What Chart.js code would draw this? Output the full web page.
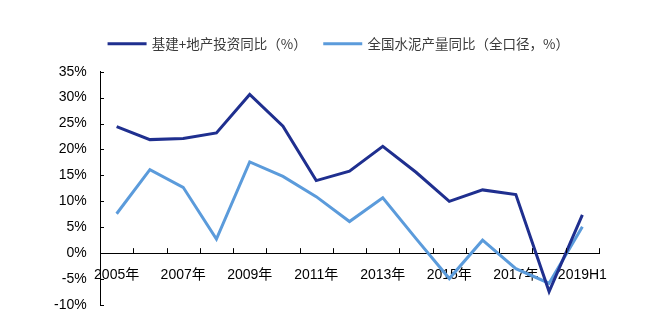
<!DOCTYPE html>
<html>
<head>
<meta charset="utf-8">
<script src="https://cdn.jsdelivr.net/npm/chart.js@4"></script>
<style>
  html, body { margin: 0; padding: 0; background: #fff; }
  #wrap { width: 645px; height: 325px; }
</style>
</head>
<body>
<div id="wrap"><canvas id="myChart"></canvas></div>
<script>
// chart data
var years = ['2005年', '2006年', '2007年', '2008年', '2009年', '2010年', '2011年', '2012年',
             '2013年', '2014年', '2015年', '2016年', '2017年', '2018年', '2019H1'];
var investYoy = [24.4, 21.9, 22.1, 23.2, 30.6, 24.5, 14.0, 15.8, 20.6, 15.6, 10.0, 12.2, 11.3, -7.4, 7.4];
var cementYoy = [7.6, 16.1, 12.7, 2.7, 17.6, 14.8, 10.9, 6.1, 10.7, 2.8, -4.9, 2.5, -3.0, -5.8, 5.1];
var seriesNames = ['基建+地产投资同比（%）', '全国水泥产量同比（全口径，%）'];

var font = "'Liberation Sans', Arial, 'Noto Sans CJK SC', sans-serif";

// small inward tick marks like the original
var tickMarks = {
  id: 'tickMarks',
  afterDraw: function(chart) {
    var ctx = chart.ctx;
    var x = chart.scales.x;
    var y = chart.scales.y;
    var y0 = y.getPixelForValue(0);
    var step = x.getPixelForValue(1) - x.getPixelForValue(0);
    ctx.save();
    ctx.strokeStyle = '#000';
    ctx.lineWidth = 1;
    ctx.beginPath();
    for (var i = 0; i <= years.length; i++) {
      var px = Math.round(x.getPixelForValue(0) - step / 2 + i * step) + 0.5;
      ctx.moveTo(px, y0);
      ctx.lineTo(px, y0 - 5);
    }
    for (var j = 0; j < y.ticks.length; j++) {
      var py = Math.round(y.getPixelForTick(j)) + 0.5;
      ctx.moveTo(y.right, py);
      ctx.lineTo(y.right + 4, py);
    }
    ctx.stroke();
    ctx.restore();
  }
};

var ctx = document.getElementById('myChart').getContext('2d');
var chart = new Chart(ctx, {
  type: 'line',
  data: {
    labels: years,
    datasets: [{
      label: seriesNames[0],
      data: investYoy,
      borderColor: '#1f2f8f',
      backgroundColor: '#1f2f8f',
      borderWidth: 3,
      pointRadius: 0,
      tension: 0
    }, {
      label: seriesNames[1],
      data: cementYoy,
      borderColor: '#5b9bdb',
      backgroundColor: '#5b9bdb',
      borderWidth: 3,
      pointRadius: 0,
      tension: 0
    }]
  },
  options: {
    responsive: true,
    maintainAspectRatio: false,
    animation: false,
    layout: { padding: { left: 79, right: 46, top: 19, bottom: 20 } },
    plugins: {
      tooltip: { enabled: false },
      // empty title used as a spacer between legend and plot
      title: {
        display: true,
        text: '',
        weight: 500,
        font: { size: 1 },
        padding: { top: 0, bottom: 10 }
      },
      legend: {
        position: 'top',
        labels: {
          boxWidth: 36,
          boxHeight: 0.01,
          padding: 18,
          color: '#3a3a3a',
          font: { family: "'Noto Sans CJK SC', sans-serif", size: 13.5 }
        }
      }
    },
    scales: {
      x: {
        type: 'category',
        position: { y: 0 },
        offset: true,
        grid: { display: false },
        border: { display: true, color: '#000', width: 1 },
        ticks: {
          autoSkip: false,
          maxRotation: 0,
          padding: 6,
          color: '#000',
          font: { family: font, size: 14 },
          callback: function(value, index) {
            return index % 2 === 0 ? years[index] : '';
          }
        }
      },
      y: {
        min: -10,
        max: 35,
        afterFit: function(scale) { scale.width = 21; },
        grid: { display: false },
        border: { display: true, color: '#000', width: 1 },
        ticks: {
          stepSize: 5,
          mirror: true,
          crossAlign: 'far',
          padding: -46,
          color: '#000',
          font: { family: font, size: 14 },
          callback: function(value) { return value + '%'; }
        }
      }
    }
  },
  plugins: [tickMarks]
});
</script>
</body>
</html>
